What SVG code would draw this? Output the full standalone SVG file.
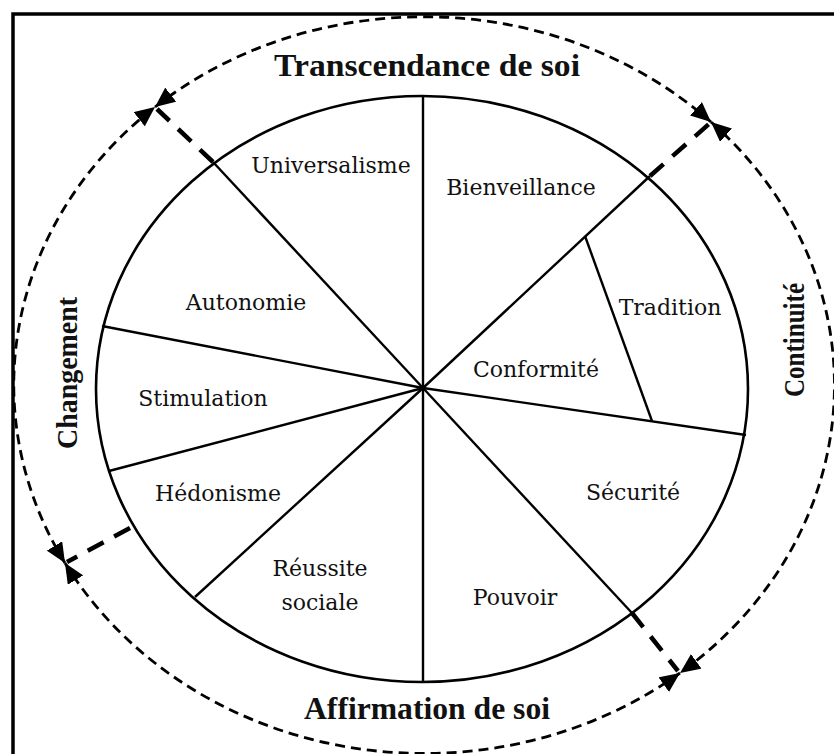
<svg xmlns="http://www.w3.org/2000/svg" width="834" height="754" viewBox="0 0 834 754">
<style>
.frame{stroke:#000;stroke-width:3.5;fill:none}
.ring{fill:none;stroke:#000;stroke-width:2.6}
.spoke{stroke:#000;stroke-width:2.4;fill:none}
.arc{fill:none;stroke:#000;stroke-width:2.8;stroke-dasharray:10 6}
.axis{stroke:#000;stroke-width:4.5;stroke-dasharray:18 12;fill:none}
.big{font-family:"Liberation Serif","Times New Roman",serif;font-weight:bold;fill:#111}
.lab{font-family:"DejaVu Serif","Liberation Serif",serif;font-size:22px;fill:#111;text-anchor:middle}
</style>
<defs>
<marker id="tip" viewBox="0 0 20 18" refX="20" refY="9" markerWidth="20" markerHeight="18" markerUnits="userSpaceOnUse" orient="auto-start-reverse">
<path d="M0,0 L20,9 L0,18 z" fill="#000"/>
</marker>
</defs>
<rect width="834" height="754" fill="#fff"/>
<path class="frame" d="M13,754 V14 H834"/>

<g id="wheel">
<ellipse class="ring" cx="422" cy="389" rx="326" ry="293"/>
</g>
<g id="connectors">
<line class="spoke" x1="423" y1="388" x2="423" y2="96"/>
<line class="spoke" x1="423" y1="388" x2="213" y2="162"/>
<line class="spoke" x1="423" y1="388" x2="102" y2="326"/>
<line class="spoke" x1="423" y1="388" x2="109" y2="471"/>
<line class="spoke" x1="423" y1="388" x2="195" y2="597"/>
<line class="spoke" x1="423" y1="388" x2="423" y2="682"/>
<line class="spoke" x1="423" y1="388" x2="632" y2="613"/>
<line class="spoke" x1="423" y1="388" x2="746" y2="435"/>
<line class="spoke" x1="423" y1="388" x2="650" y2="176"/>
<line class="spoke" x1="585" y1="236" x2="652" y2="421"/>
<line class="axis" x1="213" y1="162" x2="157" y2="109"/>
<line class="axis" x1="650" y1="176" x2="709" y2="124"/>
<line class="axis" x1="632" y1="613" x2="678" y2="671"/>
<line class="axis" x1="130" y1="528" x2="67" y2="562"/>
<path class="arc" d="M155,107 A410,368 0 0 1 711,122" marker-start="url(#tip)" marker-end="url(#tip)"/>
<path class="arc" d="M711,122 A410,368 0 0 1 680,673" marker-start="url(#tip)" marker-end="url(#tip)"/>
<path class="arc" d="M680,673 A410,368 0 0 1 65,563" marker-start="url(#tip)" marker-end="url(#tip)"/>
<path class="arc" d="M65,563 A410,368 0 0 1 155,107" marker-start="url(#tip)" marker-end="url(#tip)"/>
</g>

<g id="transcendance"><text class="big" x="427" y="76" font-size="32" text-anchor="middle" textLength="306" lengthAdjust="spacingAndGlyphs">Transcendance de soi</text></g>
<g id="affirmation"><text class="big" x="427" y="719" font-size="31" text-anchor="middle" textLength="246" lengthAdjust="spacingAndGlyphs">Affirmation de soi</text></g>
<g id="changement"><text class="big" transform="translate(77,373) rotate(-90)" font-size="29" text-anchor="middle" textLength="152" lengthAdjust="spacingAndGlyphs">Changement</text></g>
<g id="continuite"><text class="big" transform="translate(804,340) rotate(-90)" font-size="29" text-anchor="middle" textLength="114" lengthAdjust="spacingAndGlyphs">Continuité</text></g>

<g id="universalisme"><text class="lab" x="331" y="173">Universalisme</text></g>
<g id="bienveillance"><text class="lab" x="521" y="195">Bienveillance</text></g>
<g id="autonomie"><text class="lab" x="246" y="310">Autonomie</text></g>
<g id="tradition"><text class="lab" x="670" y="315">Tradition</text></g>
<g id="conformite"><text class="lab" x="536" y="377">Conformité</text></g>
<g id="stimulation"><text class="lab" x="203" y="406">Stimulation</text></g>
<g id="hedonisme"><text class="lab" x="218" y="501">Hédonisme</text></g>
<g id="securite"><text class="lab" x="633" y="500">Sécurité</text></g>
<g id="reussite"><text class="lab" x="320" y="576">Réussite</text><text class="lab" x="320" y="610">sociale</text></g>
<g id="pouvoir"><text class="lab" x="515" y="605">Pouvoir</text></g>
</svg>
